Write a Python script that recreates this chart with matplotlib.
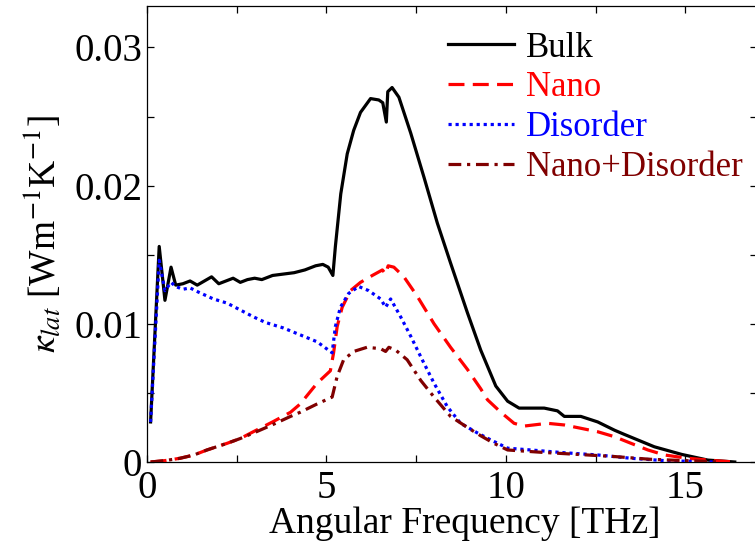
import matplotlib
matplotlib.use("Agg")
import matplotlib.pyplot as plt

plt.rcParams['font.family'] = ['Liberation Serif', 'DejaVu Serif']
plt.rcParams['mathtext.fontset'] = 'stix'

# ---- data (frequency in THz, kappa in W m^-1 K^-1) ----
bulk_f = [0.1, 0.34, 0.5, 0.67, 0.8, 1.0, 1.2, 1.4, 1.6, 1.8, 2.0, 2.2, 2.4, 2.6, 2.8, 3.0,
          3.2, 3.5, 3.8, 4.1, 4.4, 4.7, 4.9, 5.05, 5.18, 5.25, 5.4, 5.58, 5.76, 5.95, 6.23,
          6.46, 6.57, 6.67, 6.71, 6.83, 7.02, 7.35, 7.72, 8.09, 8.46, 8.93, 9.3, 9.72, 10.05,
          10.37, 11.07, 11.44, 11.63, 12.09, 12.56, 13.03, 13.3, 13.58, 14.14, 14.9, 15.63, 16.38]
bulk_k = [0.0029, 0.0156, 0.0117, 0.0141, 0.0128, 0.0129, 0.0131, 0.0128, 0.0131, 0.0134,
          0.0129, 0.0131, 0.0133, 0.0130, 0.0132, 0.0133, 0.0132, 0.0135, 0.0136, 0.0137,
          0.0139, 0.0142, 0.0143, 0.0141, 0.0135, 0.0156, 0.0194, 0.0223, 0.0240, 0.0253,
          0.0263, 0.0262, 0.0260, 0.0246, 0.0268, 0.0271, 0.0264, 0.0238, 0.0206, 0.0173,
          0.0144, 0.0108, 0.0081, 0.0055, 0.0044, 0.0039, 0.0039, 0.0037, 0.0033, 0.0033,
          0.0029, 0.0023, 0.0020, 0.0017, 0.0011, 0.00055, 0.00014, 0.0]

nano_f = [0.1, 0.5, 0.92, 1.3, 1.67, 2.23, 2.6, 2.97, 3.5, 4.0, 4.27, 4.74, 5.11, 5.2, 5.3,
          5.44, 5.67, 5.95, 6.28, 6.56, 6.65, 6.72, 6.88, 7.16, 7.53, 8.0, 8.46, 8.93, 9.3,
          9.49, 9.86, 10.23, 10.51, 11.16, 11.63, 12.09, 12.56, 13.03, 13.49, 13.96, 14.42,
          15.07, 15.82, 16.38]
nano_k = [0.0, 0.0001, 0.00027, 0.0005, 0.00087, 0.00135, 0.0017, 0.0022, 0.0029, 0.0036,
          0.0042, 0.0057, 0.0066, 0.0079, 0.0098, 0.0112, 0.0124, 0.0130, 0.0135, 0.0139,
          0.0136, 0.0142, 0.0141, 0.0134, 0.0120, 0.0100, 0.0083, 0.0067, 0.0053, 0.0045,
          0.0036, 0.0028, 0.0026, 0.0028, 0.00268, 0.00244, 0.00219, 0.00183, 0.00135,
          0.00087, 0.00051, 0.00027, 0.0001, 0.0]

dis_f = [0.1, 0.34, 0.5, 0.67, 0.8, 1.0, 1.2, 1.43, 1.85, 2.23, 2.6, 2.97, 3.3, 3.8, 4.27,
         4.74, 5.16, 5.25, 5.39, 5.62, 5.9, 6.18, 6.51, 6.65, 6.79, 7.07, 7.35, 7.67, 8.0,
         8.37, 8.74, 9.21, 9.58, 10.05, 10.7, 11.63, 12.56, 13.49, 14.42, 15.82]
dis_k = [0.0029, 0.0146, 0.0124, 0.0130, 0.0127, 0.0125, 0.0126, 0.0123, 0.0118, 0.0115,
         0.0110, 0.0105, 0.0101, 0.0097, 0.0092, 0.0087, 0.0079, 0.0098, 0.0112, 0.0122,
         0.0127, 0.0124, 0.0118, 0.0112, 0.0118, 0.0105, 0.0091, 0.0074, 0.0057, 0.0040,
         0.0028, 0.0021, 0.0016, 0.0010, 0.00087, 0.00067, 0.00051, 0.00027, 0.0001, 0.0]

nd_f = [0.1, 0.5, 0.92, 1.3, 1.67, 2.23, 2.6, 2.97, 3.5, 4.0, 4.27, 4.74, 5.16, 5.3, 5.48,
        5.76, 6.13, 6.51, 6.65, 6.74, 6.93, 7.25, 7.63, 8.0, 8.46, 8.93, 9.3, 9.67, 10.05,
        11.0, 12.0, 13.0, 14.0, 15.0, 16.0]
nd_k = [0.0, 0.0001, 0.00027, 0.0005, 0.00087, 0.00135, 0.0017, 0.0021, 0.0027, 0.0033,
        0.0036, 0.0042, 0.0047, 0.0062, 0.0074, 0.0080, 0.0083, 0.0082, 0.0080, 0.0083,
        0.0081, 0.0074, 0.0059, 0.0047, 0.0033, 0.0025, 0.0019, 0.00135, 0.00087, 0.0007,
        0.00055, 0.0004, 0.0002, 0.0001, 0.0]

labels = ["Bulk", "Nano", "Disorder", "Nano+Disorder"]
colors = ["black", "red", "blue", "#800000"]
xticks = [0, 5, 10, 15]
yticks = [0, 0.01, 0.02, 0.03]
ytick_labels = ["0", "0.01", "0.02", "0.03"]

# ---- figure ----
W, H = 755, 554
fig = plt.figure(figsize=(W / 100, H / 100), dpi=100)
ax = fig.add_axes([147 / W, 1 - 462 / H, (757 - 147) / W, (462 - 6) / H])

lw = 2.3
ax.plot(bulk_f, bulk_k, color=colors[0], lw=lw, label=labels[0], zorder=3)
ax.plot(nano_f, nano_k, color=colors[1], lw=lw, linestyle=(0, (5, 2.6)), label=labels[1], zorder=4)
ax.plot(dis_f, dis_k, color=colors[2], lw=lw, linestyle=(0, (1, 1.2)), label=labels[2], zorder=5)
ax.plot(nd_f, nd_k, color=colors[3], lw=lw, linestyle=(0, (4, 1.8, 1, 1.8)), label=labels[3], zorder=6)

ax.set_xlim(0, 17)
ax.set_ylim(0, 0.033)
ax.set_xticks(xticks)
ax.set_xticklabels([str(t) for t in xticks])
ax.set_xticks([2.5, 7.5, 12.5], minor=True)
ax.set_yticks(yticks)
ax.set_yticklabels(ytick_labels)
ax.set_yticks([0.005, 0.015, 0.025], minor=True)

ax.tick_params(which='both', direction='in', top=True, right=True, length=5, width=0.9,
               labelsize=28, pad=3.5)
ax.tick_params(axis='x', pad=6)
for s in ax.spines.values():
    s.set_linewidth(0.9)

ax.set_xlabel("Angular Frequency [THz]", fontsize=27)
ax.xaxis.set_label_coords((465 - 147) / 610, -0.098)
ax.set_ylabel(r"$\kappa_{lat}$ [Wm$^{-1}$K$^{-1}$]", fontsize=27)
ax.yaxis.set_label_coords(-0.136, 0.5)

leg = ax.legend(loc='upper left', bbox_to_anchor=((448 - 147) / 610, 0.944), frameon=False,
                fontsize=25, handlelength=1.9, handletextpad=0.35, labelspacing=0.2,
                borderpad=0, borderaxespad=0)
for txt, c in zip(leg.get_texts(), colors):
    txt.set_color(c)

fig.savefig("out.png", dpi=100)
